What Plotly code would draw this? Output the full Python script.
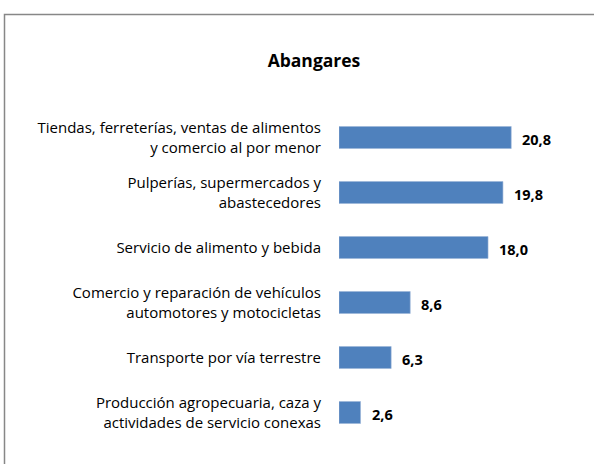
import plotly.graph_objects as go

# Actividades económicas, Abangares (porcentaje)
categorias = [
    "Tiendas, ferreterías, ventas de alimentos<br>y comercio al por menor",
    "Pulperías, supermercados y<br>abastecedores",
    "Servicio de alimento y bebida",
    "Comercio y reparación de vehículos<br>automotores y motocicletas",
    "Transporte por vía terrestre",
    "Producción agropecuaria, caza y<br>actividades de servicio conexas",
]
valores = [20.8, 19.8, 18.0, 8.6, 6.3, 2.6]
titulo = "Abangares"

W, H = 594, 464
L, R, T, B = 339, 48, 110, 24
FONT = "'Open Sans', sans-serif"

fig = go.Figure(
    go.Bar(
        x=valores,
        y=categorias,
        orientation="h",
        marker=dict(color="#4F81BD", line=dict(color="#9bb4d6", width=0.6)),
        width=0.4,
        hoverinfo="skip",
    )
)

# value labels just right of each bar
for cat, v in zip(categorias, valores):
    fig.add_annotation(
        x=v, y=cat, xref="x", yref="y",
        text=f"<b>{v:.1f}</b>".replace(".", ","),
        showarrow=False, xanchor="left", yanchor="middle", xshift=9, yshift=-2,
        font=dict(family=FONT, size=14.5, color="#000000"),
    )

# outer frame (runs off the right and bottom edges)
pw, ph = W - L - R, H - T - B
def px_to_paper_x(px):
    return (px - L) / pw
def py_to_paper_y(py):
    return (H - B - py) / ph

fig.add_shape(
    type="rect", xref="paper", yref="paper",
    x0=px_to_paper_x(4.5), x1=px_to_paper_x(W + 10),
    y0=py_to_paper_y(H + 10), y1=py_to_paper_y(14.5),
    line=dict(color="#878787", width=1.5), fillcolor="rgba(0,0,0,0)",
    layer="below",
)

fig.update_layout(
    width=W, height=H,
    margin=dict(l=L, r=R, t=T, b=B, pad=0),
    paper_bgcolor="white", plot_bgcolor="white",
    showlegend=False,
    title=dict(
        text=f"<b>{titulo}</b>",
        x=314 / W, xanchor="center",
        y=1 - 61 / H, yanchor="middle",
        font=dict(family=FONT, size=17.5, color="#000000"),
    ),
    xaxis=dict(range=[0, 25], visible=False, fixedrange=True),
    yaxis=dict(
        autorange="reversed",
        showgrid=False, zeroline=False, showline=False,
        ticks="", ticklabelstandoff=17,
        tickfont=dict(family=FONT, size=15, color="#000000"),
        fixedrange=True,
    ),
    font=dict(family=FONT),
)

fig.write_html("out.html", config={"displayModeBar": False})
